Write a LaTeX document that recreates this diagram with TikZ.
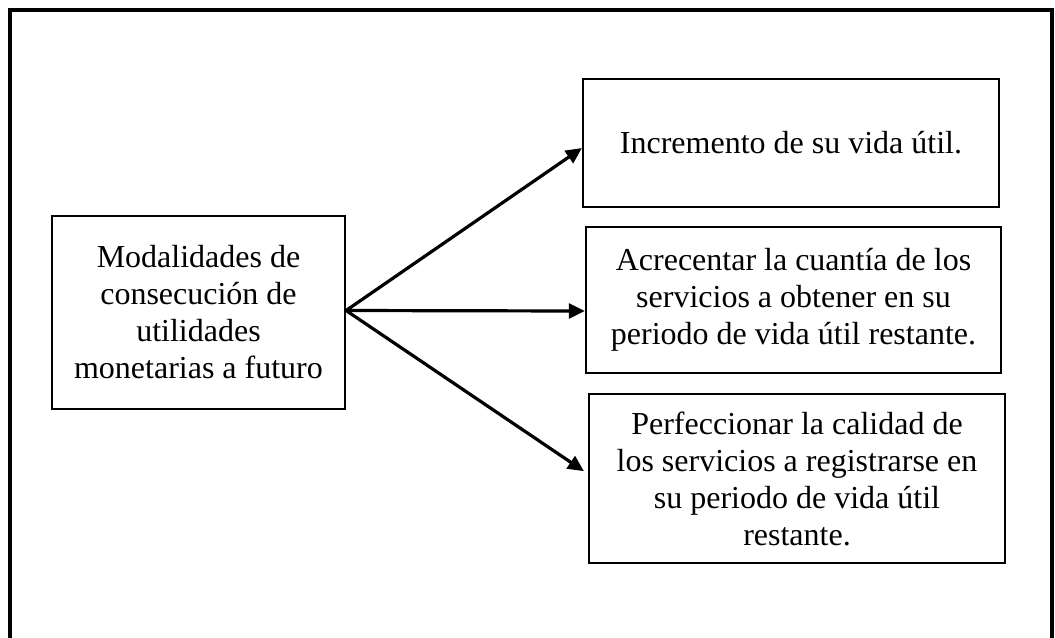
\documentclass[tikz,border=0pt]{standalone}
\usepackage{fontspec}
\setmainfont{Liberation Serif}
\usetikzlibrary{arrows.meta,positioning}

\begin{document}
\begin{tikzpicture}[x=0.75pt,y=-0.75pt,
    box/.style={draw,line width=1.6pt,align=center,inner sep=0pt,
      font=\fontsize{24}{27.75}\selectfont},
    link/.style={line width=2.4pt,-{Triangle[length=12pt,width=11pt]}}]
  \useasboundingbox (0,0) rectangle (1055,637);
  % outer frame
  \draw[line width=2.4pt] (10,10) rectangle (1052,660);
  \node[box,minimum width=219.75pt,minimum height=144.75pt] (src) at (198.5,312.5)
    {Modalidades de\\consecución de\\utilidades\\monetarias a futuro};
  \node[box,minimum width=312pt,minimum height=96pt] (vida) at (791,143)
    {Incremento de su vida útil.};
  \node[box,minimum width=311.25pt,minimum height=109.5pt] (cuantia) at (793.5,300)
    {Acrecentar la cuantía de los\\servicios a obtener en su\\periodo de vida útil restante.};
  \node[box,minimum width=312pt,minimum height=126.75pt] (calidad) at (797,478.5)
    {Perfeccionar la calidad de\\los servicios a registrarse en\\su periodo de vida útil\\restante.};
  \coordinate (o) at ([yshift=1.5pt]src.east);
  \draw[link] (o) -- ([yshift=-3.75pt]vida.west);
  \draw[link] (o) -- ([yshift=-8.25pt]cuantia.west);
  \draw[link] (o) -- ([xshift=-3pt,yshift=5.5pt]calidad.west);
\end{tikzpicture}
\end{document}
